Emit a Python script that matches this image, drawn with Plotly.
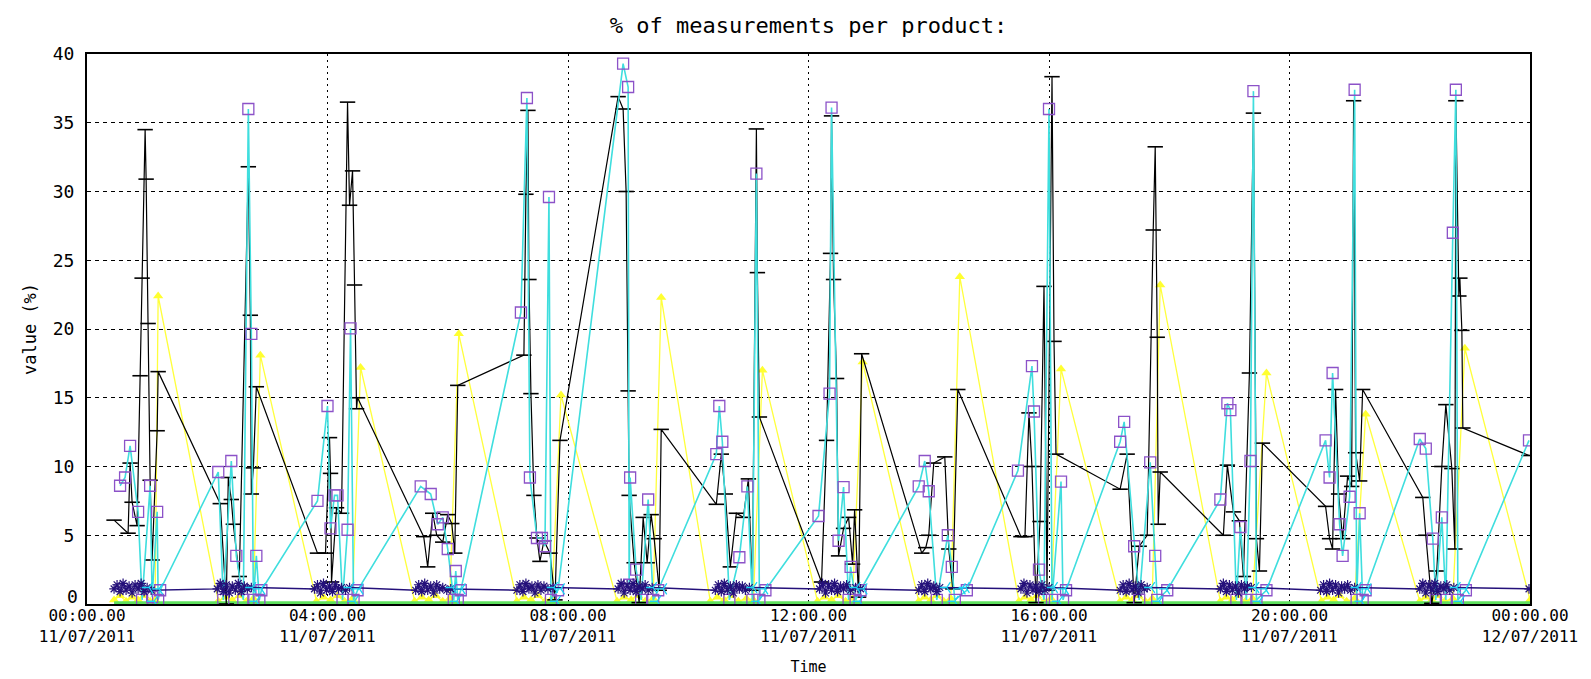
import plotly.graph_objects as go
import pandas as pd

# ---------------- data (minutes after 11/07/2011 00:00, values in %) ----------------
black_min = [27, 41, 43, 45, 50, 53, 55, 58, 59, 61, 63, 65, 70, 71,
             133, 139, 141, 144, 146, 152, 161, 163, 164, 166, 169,
             230, 238, 242, 243, 244, 249, 254, 260, 262, 265, 267, 269, 270,
             336, 340, 345, 349, 355, 360, 364, 367, 370,
             436, 438, 440, 441, 443, 446, 449, 452, 456, 462, 467, 472,
             530, 535, 538, 540, 541, 546, 551, 555, 559, 563, 566, 571, 573,
             628, 633, 637, 642, 648, 655, 660, 664, 668, 669, 671,
             733, 738, 742, 743, 745, 748, 750, 755, 760, 764, 766, 770, 773,
             833, 837, 840, 845, 856, 860, 864, 869,
             932, 936, 940, 943, 947, 951, 955, 958, 963, 965, 967,
             1031, 1038, 1045, 1050, 1058, 1064, 1066, 1068, 1069, 1071,
             1134, 1138, 1144, 1150, 1154, 1160, 1164, 1167, 1170, 1173,
             1236, 1240, 1243, 1246, 1249, 1253, 1258, 1262, 1264, 1266, 1270, 1273,
             1333, 1336, 1342, 1347, 1352, 1356, 1362, 1365, 1366, 1369, 1370, 1372, 1373, 1439]
black_val = [6.1, 5.15, 10.25, 7.4, 5.7, 16.6, 23.7, 34.5, 30.9, 20.4, 9.0, 3.2, 12.6, 16.9,
             7.3, 0.0, 9.2, 7.6, 5.8, 2.0, 31.8, 21.0, 8.0, 9.9, 15.8,
             3.7, 3.7, 12.1, 9.5, 1.6, 7.0, 6.6, 36.5, 29.0, 31.5, 23.2, 14.2, 15.0,
             4.9, 2.7, 6.6, 5.0, 4.5, 6.5, 5.85, 3.7, 15.9,
             18.1, 29.8, 35.9, 23.6, 15.3, 7.9, 4.8, 3.1, 4.6, 3.7, 0.3, 11.9,
             36.9, 36.0, 30.0, 15.5, 7.9, 3.0, 0.1, 6.3, 3.0, 6.5, 4.75, 1.0, 12.7,
             7.25, 10.9, 8.0, 2.7, 6.6, 6.3, 9.1, 1.0, 34.55, 24.1, 13.6,
             1.6, 11.9, 25.5, 35.5, 23.6, 16.4, 3.5, 5.5, 6.3, 2.9, 6.85, 0.5, 18.2,
             3.7, 4.1, 5.0, 10.25, 10.7, 4.0, 1.1, 15.6,
             4.9, 4.9, 13.9, 10.0, 0.1, 6.0, 23.1, 1.0, 38.35, 19.1, 10.9,
             8.35, 10.9, 0.1, 4.2, 5.0, 27.2, 33.25, 19.4, 5.8, 9.6,
             5.0, 10.1, 6.7, 6.05, 2.0, 16.8, 35.7, 4.75, 2.4, 11.7,
             7.1, 4.75, 4.0, 15.6, 8.0, 4.75, 9.3, 8.55, 36.6, 11.0, 8.95, 15.6,
             7.75, 5.0, 0.05, 2.4, 10.0, 14.5, 9.85, 4.0, 36.6, 22.4, 23.7, 19.9, 12.8, 10.8]

cyan_min = [33, 38, 43, 51, 55, 63, 65, 70, 71, 73,
            131, 136, 144, 149, 156, 161, 164, 166, 169, 172, 174,
            230, 240, 243, 247, 250, 255, 260, 263, 266, 270,
            333, 343, 350, 355, 360, 366, 368, 370, 373,
            433, 439, 442, 449, 454, 457, 461, 463, 470,
            535, 540, 541, 542, 548, 553, 560, 565, 570,
            628, 631, 634, 641, 651, 659, 664, 668, 671, 677,
            730, 741, 743, 750, 755, 760, 762, 767, 772,
            830, 836, 840, 848, 859, 863, 866, 878,
            929, 943, 945, 950, 955, 960, 963, 972, 974, 977,
            1031, 1035, 1045, 1050, 1061, 1066, 1068, 1078,
            1131, 1138, 1141, 1147, 1151, 1157, 1161, 1164, 1167, 1177,
            1236, 1240, 1243, 1250, 1253, 1260, 1265, 1267, 1270, 1273, 1276,
            1330, 1336, 1343, 1346, 1352, 1356, 1363, 1366, 1368, 1376, 1439]
cyan_val = [8.6, 9.2, 11.5, 6.7, 0.3, 8.6, 0.5, 6.7, 0.3, 1.0,
            9.6, 0.3, 10.4, 3.5, 0.3, 36.0, 19.65, 0.3, 3.5, 0.3, 1.0,
            7.5, 14.4, 5.5, 7.9, 7.9, 0.3, 5.4, 20.05, 0.3, 1.0,
            8.55, 8.0, 5.8, 6.3, 4.0, 0.3, 2.4, 0.3, 1.0,
            21.2, 36.8, 9.2, 4.8, 4.8, 4.2, 29.6, 0.3, 1.0,
            39.3, 37.6, 1.4, 9.2, 2.5, 0.3, 7.6, 0.3, 1.0,
            10.9, 14.4, 11.8, 0.3, 3.4, 8.55, 0.3, 31.3, 0.3, 1.0,
            6.4, 15.3, 36.1, 4.6, 8.5, 0.3, 2.7, 0.3, 1.0,
            8.55, 10.4, 8.2, 0.3, 5.0, 2.7, 0.3, 1.0,
            9.7, 17.3, 14.0, 2.5, 0.3, 36.0, 0.3, 8.9, 0.3, 1.0,
            11.8, 13.25, 4.2, 0.3, 10.3, 3.5, 0.3, 1.0,
            7.6, 14.6, 14.1, 0.3, 5.6, 0.3, 10.4, 37.3, 0.3, 1.0,
            11.9, 9.2, 16.8, 5.8, 3.5, 7.8, 37.4, 0.3, 6.6, 0.3, 1.0,
            12.0, 11.3, 4.75, 0.3, 6.3, 0.3, 27.0, 37.4, 0.3, 1.0, 11.9]

yellow_min = [27, 33, 39, 45, 51, 57, 63, 68, 71,
              131, 138, 145, 152, 159, 166, 173,
              229, 236, 243, 250, 257, 265, 273,
              327, 334, 341, 348, 355, 362, 371,
              429, 436, 443, 450, 457, 464, 473,
              529, 536, 543, 550, 557, 565, 573,
              622, 629, 636, 643, 650, 658, 665, 674,
              729, 736, 743, 750, 757, 764, 774,
              830, 836, 842, 848, 855, 862, 871,
              930, 936, 942, 948, 955, 962, 972,
              1031, 1037, 1043, 1049, 1056, 1063, 1071,
              1131, 1137, 1143, 1149, 1156, 1163, 1177,
              1232, 1238, 1244, 1250, 1257, 1265, 1276,
              1330, 1336, 1342, 1348, 1355, 1363, 1375, 1440]
yellow_val = [0.3, 0.6, 0.2, 0.5, 0.3, 0.6, 0.2, 0.3, 22.4,
              0.2, 0.5, 0.3, 0.6, 0.2, 0.4, 18.1,
              0.2, 0.5, 0.3, 0.6, 0.2, 0.4, 17.2,
              0.2, 0.5, 0.3, 0.6, 0.2, 0.4, 19.65,
              0.2, 0.5, 0.3, 0.6, 0.2, 0.4, 15.2,
              0.2, 0.5, 0.3, 0.6, 0.2, 0.4, 22.3,
              0.2, 0.5, 0.3, 0.6, 0.2, 0.4, 0.3, 17.0,
              0.2, 0.5, 0.3, 0.6, 0.2, 0.4, 17.6,
              0.2, 0.5, 0.3, 0.6, 0.2, 0.4, 23.8,
              0.2, 0.5, 0.3, 0.6, 0.2, 0.4, 17.1,
              0.2, 0.5, 0.3, 0.6, 0.2, 0.4, 23.2,
              0.2, 0.5, 0.3, 0.6, 0.2, 0.4, 16.8,
              0.2, 0.5, 0.3, 0.6, 0.2, 0.4, 13.8,
              0.2, 0.5, 0.3, 0.6, 0.2, 0.4, 18.6, 0.3]

star_min = [27, 30, 33, 36, 39, 42, 45, 48, 51, 54, 57, 60, 64,
            130, 133, 136, 139, 142, 145, 148, 151, 154, 157, 160, 164,
            227, 230, 233, 236, 239, 242, 245, 248, 251, 254, 258, 262,
            328, 331, 334, 337, 340, 343, 346, 349, 352, 355, 359, 363,
            429, 432, 435, 438, 441, 444, 447, 450, 453, 456, 460, 465,
            530, 533, 536, 539, 542, 545, 548, 551, 554, 557, 560, 564,
            627, 630, 633, 636, 639, 642, 645, 648, 651, 654, 657, 661,
            731, 734, 737, 740, 743, 746, 749, 752, 755, 758, 762, 767, 772,
            830, 833, 836, 839, 842, 845, 848, 851,
            932, 935, 938, 941, 944, 947, 950, 953, 956, 960,
            1031, 1034, 1037, 1040, 1043, 1046, 1049, 1052, 1055, 1058,
            1131, 1134, 1137, 1140, 1143, 1146, 1149, 1152, 1155, 1158, 1162,
            1231, 1234, 1237, 1240, 1243, 1246, 1249, 1252, 1255, 1258, 1261, 1265,
            1330, 1333, 1336, 1339, 1342, 1345, 1348, 1351, 1354, 1357, 1360, 1364,
            1439]
star_val = [1.1, 1.4, 0.9, 1.5, 1.0, 1.3, 0.8, 1.4, 1.1, 1.5, 0.9, 1.2, 1.0,
            1.1, 1.5, 0.9, 1.4, 0.8, 1.3, 1.0, 1.5, 0.9, 1.3, 1.1, 1.2,
            1.1, 1.4, 0.8, 1.5, 1.0, 1.3, 0.9, 1.4, 1.1, 1.2, 1.0, 1.2,
            1.0, 1.4, 0.9, 1.5, 1.0, 1.3, 0.8, 1.4, 1.1, 1.2, 1.0, 1.1,
            1.0, 1.4, 0.9, 1.5, 1.1, 1.3, 0.8, 1.4, 1.0, 1.3, 1.1, 1.2,
            1.1, 1.5, 0.8, 1.4, 1.0, 1.5, 0.9, 1.3, 1.1, 1.4, 1.0, 1.2,
            1.0, 1.4, 0.9, 1.5, 1.0, 1.3, 0.8, 1.4, 1.1, 1.3, 1.0, 1.2,
            1.1, 1.5, 0.8, 1.4, 1.0, 1.5, 0.9, 1.3, 1.1, 1.4, 1.0, 1.2, 1.1,
            1.0, 1.4, 0.9, 1.5, 1.1, 1.3, 0.9, 1.2,
            1.1, 1.5, 0.8, 1.4, 1.0, 1.3, 0.9, 1.4, 1.0, 1.2,
            1.0, 1.4, 0.9, 1.5, 1.0, 1.3, 0.8, 1.4, 1.1, 1.2,
            1.1, 1.5, 0.9, 1.4, 1.0, 1.3, 0.8, 1.4, 1.1, 1.3, 1.2,
            1.0, 1.4, 0.9, 1.5, 1.0, 1.4, 0.8, 1.3, 1.1, 1.4, 1.0, 1.2,
            1.1, 1.5, 0.8, 1.4, 1.0, 1.5, 0.9, 1.3, 1.1, 1.4, 1.0, 1.2,
            1.1]

blue_min = [62, 67, 72, 165, 169, 174, 263, 267, 272, 365, 369, 374,
            466, 469, 473, 565, 569, 575, 665, 670, 676, 768, 771, 775,
            858, 866, 873, 877, 965, 970, 976, 1062, 1070, 1077,
            1166, 1170, 1176, 1268, 1272, 1278, 1367, 1371, 1376]
blue_val = [1.2, 0.2, 1.1, 1.2, 0.2, 1.1, 1.2, 0.2, 1.1, 1.2, 0.2, 1.1,
            1.2, 0.2, 1.1, 1.2, 0.2, 1.1, 1.2, 0.2, 1.1, 1.2, 0.2, 1.1,
            1.2, 0.2, 1.1, 1.2, 1.2, 0.2, 1.1, 1.2, 0.2, 1.1,
            1.2, 0.2, 1.1, 1.2, 0.2, 1.1, 1.2, 0.2, 1.1]

green_min = [27, 1440]
green_val = [0.08, 0.08]

x_tick_hours = [0, 4, 8, 12, 16, 20, 24]
y_ticks = [0, 5, 10, 15, 20, 25, 30, 35, 40]

for a, b in [(black_min, black_val), (cyan_min, cyan_val), (yellow_min, yellow_val),
             (star_min, star_val), (blue_min, blue_val), (green_min, green_val)]:
    assert len(a) == len(b), (len(a), len(b))

base = pd.Timestamp("2011-07-11 00:00")
MONO = "DejaVu Sans Mono"


def times(mins):
    return [base + pd.Timedelta(minutes=m) for m in mins]


fig = go.Figure()
fig.add_trace(go.Scatter(x=times(yellow_min), y=yellow_val, mode="lines+markers",
                         line=dict(color="#ffff3c", width=1.3),
                         marker=dict(symbol="triangle-up", size=9, color="#ffff30")))
fig.add_trace(go.Scatter(x=times(green_min), y=green_val, mode="lines",
                         line=dict(color="#5ee05e", width=3.5)))
fig.add_trace(go.Scatter(x=times(black_min), y=black_val, mode="lines+markers",
                         line=dict(color="black", width=1.2),
                         marker=dict(symbol="line-ew", size=11,
                                     line=dict(color="black", width=1.6))))
fig.add_trace(go.Scatter(x=times(cyan_min), y=cyan_val, mode="lines+markers",
                         line=dict(color="#3fdede", width=1.6),
                         marker=dict(symbol="square-open", size=11, color="#8c52c8",
                                     line=dict(color="#8c52c8", width=1.3))))
fig.add_trace(go.Scatter(x=times(star_min), y=star_val, mode="lines+markers",
                         line=dict(color="#24107a", width=1.5),
                         marker=dict(symbol="asterisk-open", size=8,
                                     line=dict(color="#5a2cc4", width=1.2))))
fig.add_trace(go.Scatter(x=times(blue_min), y=blue_val, mode="markers",
                         marker=dict(symbol="y-left-open", size=9,
                                     line=dict(color="#3a78dc", width=1.3))))

fig.update_layout(
    width=1591, height=679,
    margin=dict(l=79, r=69, t=46, b=83, autoexpand=False),
    paper_bgcolor="white", plot_bgcolor="white",
    showlegend=False,
    font=dict(family=MONO, color="black"),
    title=dict(text="% of measurements per product:", x=0.5, xref="paper", xanchor="center",
               y=1 - 17 / 679, yanchor="middle",
               font=dict(family=MONO, size=22, color="black")),
)
fig.update_xaxes(
    type="date",
    range=[base, base + pd.Timedelta(hours=24)],
    tickvals=[base + pd.Timedelta(hours=h) for h in x_tick_hours],
    tickformat="%H:%M.%S<br>%d/%m/%Y",
    tickfont=dict(family=MONO, size=16),
    showgrid=True, gridcolor="black", gridwidth=1.2, griddash="2px,4px",
    showline=True, linecolor="black", linewidth=2, mirror=True,
    ticks="", zeroline=False, ticklabelstandoff=-4,
    title=dict(text="Time", font=dict(family=MONO, size=15), standoff=16),
)
# the "0" label is drawn just above the axis (as in the reference) to keep it clear of the time labels
fig.update_yaxes(
    range=[0, 40],
    tickvals=y_ticks,
    ticktext=["" if v == 0 else str(v) for v in y_ticks],
    tickfont=dict(family=MONO, size=18),
    showgrid=True, gridcolor="black", gridwidth=1.2, griddash="4px,4px",
    showline=True, linecolor="black", linewidth=2, mirror=True,
    ticks="", zeroline=False, ticklabelstandoff=7,
    title=dict(text="value (%)", font=dict(family=MONO, size=17), standoff=12),
)
fig.add_annotation(x=0, xref="paper", y=y_ticks[0], yref="y", text=str(y_ticks[0]),
                   showarrow=False, xanchor="right", yanchor="middle",
                   xshift=-7, yshift=8, font=dict(family=MONO, size=18, color="black"))

fig.write_html("out.html")
